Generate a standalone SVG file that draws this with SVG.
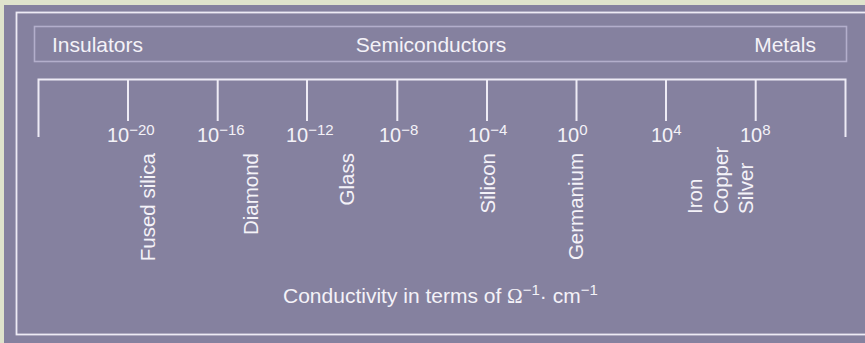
<svg xmlns="http://www.w3.org/2000/svg" width="865" height="343" viewBox="0 0 865 343">
<style>
.t{font-family:"Liberation Sans",Arial,sans-serif;fill:#f4f2f8}
.h{font-size:21px}
.n{font-size:20px}
.s{font-size:15px}
.r{font-size:20.5px}
.tick{stroke:#eeebf5;stroke-width:2;fill:none}
</style>
<rect x="0" y="0" width="865" height="343" fill="#dfe3cc"/>
<rect x="4" y="5" width="870" height="350" fill="#85819f"/>
<rect x="16.5" y="12.5" width="870" height="322" fill="none" stroke="#eeebf5" stroke-width="1.8"/>
<g id="header">
<rect x="34.5" y="26.5" width="812" height="35" fill="none" stroke="#b3aecb" stroke-width="1.6"/>
<text class="t h" x="52" y="52">Insulators</text>
<text class="t h" x="431" y="52" text-anchor="middle">Semiconductors</text>
<text class="t h" x="816" y="52" text-anchor="end">Metals</text>
</g>
<g id="scale">
<path class="tick" d="M38.5 137V79.5H845.5V137"/>
<path class="tick" d="M128 79.5V121M217.7 79.5V121M307 79.5V121M397.3 79.5V121M487 79.5V121M576.5 79.5V121M666 79.5V121M755.7 79.5V121"/>
</g>
<g id="labels">
<text class="t n" x="107" y="142">10<tspan class="s" dy="-7">−20</tspan></text>
<text class="t n" x="197" y="142">10<tspan class="s" dy="-7">−16</tspan></text>
<text class="t n" x="286" y="142">10<tspan class="s" dy="-7">−12</tspan></text>
<text class="t n" x="379" y="142">10<tspan class="s" dy="-7">−8</tspan></text>
<text class="t n" x="468" y="142">10<tspan class="s" dy="-7">−4</tspan></text>
<text class="t n" x="557" y="142">10<tspan class="s" dy="-7">0</tspan></text>
<text class="t n" x="651" y="142">10<tspan class="s" dy="-7">4</tspan></text>
<text class="t n" x="740" y="142">10<tspan class="s" dy="-7">8</tspan></text>
</g>
<g id="materials">
<text class="t r" transform="translate(155,153) rotate(-90)" text-anchor="end">Fused silica</text>
<text class="t r" transform="translate(258,153) rotate(-90)" text-anchor="end">Diamond</text>
<text class="t r" transform="translate(354,153) rotate(-90)" text-anchor="end">Glass</text>
<text class="t r" transform="translate(495,153) rotate(-90)" text-anchor="end">Silicon</text>
<text class="t r" transform="translate(583,153) rotate(-90)" text-anchor="end">Germanium</text>
<text class="t r" transform="translate(702,214) rotate(-90)">Iron</text>
<text class="t r" transform="translate(727.5,214) rotate(-90)">Copper</text>
<text class="t r" transform="translate(753,214) rotate(-90)">Silver</text>
</g>
<g id="axis-title">
<text class="t h" x="283" y="303">Conductivity in terms of <tspan font-family="'Liberation Serif',serif">Ω</tspan><tspan class="s" dy="-8">−1</tspan><tspan dy="8">· cm</tspan><tspan class="s" dy="-8">−1</tspan></text>
</g>
</svg>
